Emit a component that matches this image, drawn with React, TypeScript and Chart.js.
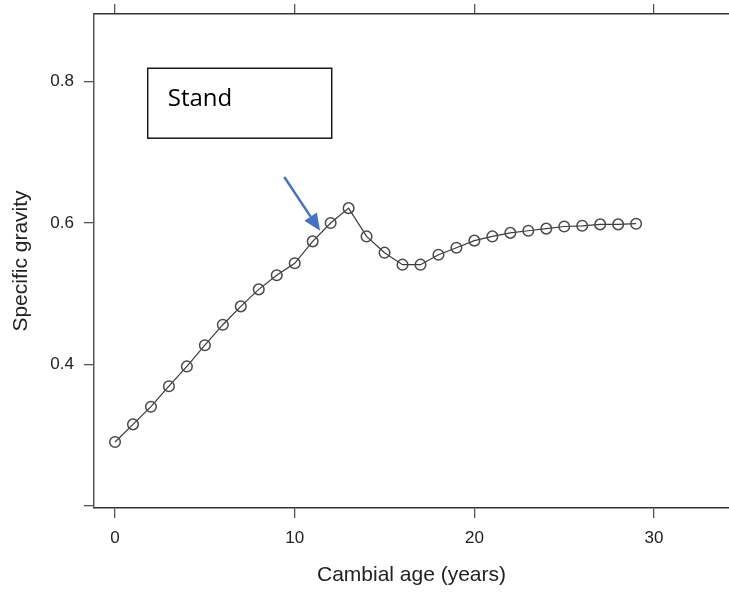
import { useEffect, useRef } from 'react';
import { Chart, registerables } from 'chart.js';

Chart.register(...registerables);

// ---- data ----
const cambialAge = [0, 1, 2, 3, 4, 5, 6, 7, 8, 9, 10, 11, 12, 13, 14, 15, 16, 17, 18, 19, 20, 21, 22, 23, 24, 25, 26, 27, 28, 29];
const specificGravity = [
  0.290, 0.315, 0.340, 0.369, 0.397, 0.427, 0.456, 0.482, 0.506, 0.526,
  0.543, 0.574, 0.600, 0.621, 0.581, 0.558, 0.541, 0.541, 0.555, 0.565,
  0.575, 0.581, 0.586, 0.589, 0.592, 0.595, 0.596, 0.598, 0.598, 0.599,
];
const xTickValues = [0, 10, 20, 30];
const yTickValues = [0.2, 0.4, 0.6, 0.8];
const yHiddenLabels = [0.2];
const xRange = [-1.17, 34.17];
const yRange = [0.1966, 0.8958];
const xAxisTitle = 'Cambial age (years)';
const yAxisTitle = 'Specific gravity';

// annotation (in data coordinates)
const boxLabel = 'Stand';
const boxXRange = [1.82, 12.06];
const boxYRange = [0.720, 0.819];
const arrowFrom = [9.42, 0.665];
const arrowTo = [11.41, 0.589];

const FONT = '"Liberation Sans", Arial, Helvetica, sans-serif';

const annotationPlugin = {
  id: 'standAnnotation',
  afterDraw(chart: any) {
    const { ctx, scales } = chart;
    const xs = scales.x;
    const ys = scales.y;
    ctx.save();
    // box
    const bx0 = xs.getPixelForValue(boxXRange[0]);
    const bx1 = xs.getPixelForValue(boxXRange[1]);
    const by0 = ys.getPixelForValue(boxYRange[1]);
    const by1 = ys.getPixelForValue(boxYRange[0]);
    ctx.fillStyle = '#ffffff';
    ctx.fillRect(bx0, by0, bx1 - bx0, by1 - by0);
    ctx.strokeStyle = '#1a1a1a';
    ctx.lineWidth = 1.5;
    ctx.strokeRect(bx0, by0, bx1 - bx0, by1 - by0);
    ctx.fillStyle = '#000000';
    ctx.font = '24px "Open Sans", "Noto Sans", sans-serif';
    ctx.textBaseline = 'alphabetic';
    ctx.textAlign = 'left';
    ctx.fillText(boxLabel, bx0 + 20, by0 + 37.5);

    // arrow
    const ax0 = xs.getPixelForValue(arrowFrom[0]);
    const ay0 = ys.getPixelForValue(arrowFrom[1]);
    const ax1 = xs.getPixelForValue(arrowTo[0]);
    const ay1 = ys.getPixelForValue(arrowTo[1]);
    const ang = Math.atan2(ay1 - ay0, ax1 - ax0);
    const headLen = 17;
    const headHalf = 7.5;
    const baseX = ax1 - headLen * Math.cos(ang);
    const baseY = ay1 - headLen * Math.sin(ang);
    ctx.strokeStyle = '#4472C4';
    ctx.fillStyle = '#4472C4';
    ctx.lineWidth = 2.5;
    ctx.beginPath();
    ctx.moveTo(ax0, ay0);
    ctx.lineTo(baseX, baseY);
    ctx.stroke();
    ctx.beginPath();
    ctx.moveTo(ax1, ay1);
    ctx.lineTo(baseX + headHalf * Math.sin(ang), baseY - headHalf * Math.cos(ang));
    ctx.lineTo(baseX - headHalf * Math.sin(ang), baseY + headHalf * Math.cos(ang));
    ctx.closePath();
    ctx.fill();
    ctx.restore();
  },
};

const zeroPad = (s: any) => {
  s.paddingLeft = 0;
  s.paddingRight = 0;
  s.paddingTop = 0;
  s.paddingBottom = 0;
};

export default function App() {
  const canvasRef = useRef<HTMLCanvasElement | null>(null);

  useEffect(() => {
    if (!canvasRef.current) return;
    const points = cambialAge.map((x, i) => ({ x, y: specificGravity[i] }));
    const chart = new Chart(canvasRef.current, {
      type: 'line',
      data: {
        datasets: [
          {
            data: points,
            borderColor: '#3a3a3a',
            borderWidth: 1.2,
            pointRadius: 5.3,
            pointBorderWidth: 1.5,
            pointBorderColor: '#4a4a4a',
            pointBackgroundColor: 'rgba(0,0,0,0)',
            pointHoverRadius: 5.3,
            tension: 0,
            clip: false,
          },
        ],
      },
      options: {
        animation: false,
        responsive: false,
        maintainAspectRatio: false,
        events: [],
        layout: { padding: 0, autoPadding: false },
        plugins: {
          legend: { display: false },
          tooltip: { enabled: false },
          title: { display: false },
        },
        scales: {
          x: {
            type: 'linear',
            position: 'bottom',
            min: xRange[0],
            max: xRange[1],
            afterBuildTicks: (s: any) => {
              s.ticks = xTickValues.map((v) => ({ value: v }));
            },
            afterFit: (s: any) => {
              s.height = 87;
              zeroPad(s);
            },
            grid: {
              drawOnChartArea: false,
              drawTicks: true,
              tickLength: 10,
              color: '#555555',
              lineWidth: 1.3,
            },
            border: { display: true, color: '#333333', width: 1.5 },
            ticks: {
              padding: 10,
              color: '#222222',
              font: { family: FONT, size: 17 },
              maxRotation: 0,
              callback: (v: any) => String(v),
            },
            title: {
              display: true,
              text: xAxisTitle,
              color: '#222222',
              font: { family: FONT, size: 21 },
              padding: { top: 0, bottom: 7 },
            },
          },
          x2: {
            type: 'linear',
            position: 'top',
            min: xRange[0],
            max: xRange[1],
            afterBuildTicks: (s: any) => {
              s.ticks = xTickValues.map((v) => ({ value: v }));
            },
            afterFit: (s: any) => {
              s.height = 14;
              zeroPad(s);
            },
            grid: {
              drawOnChartArea: false,
              drawTicks: true,
              tickLength: 10,
              color: '#555555',
              lineWidth: 1.3,
            },
            border: { display: true, color: '#333333', width: 1.5 },
            ticks: { display: false },
          },
          y: {
            type: 'linear',
            position: 'left',
            min: yRange[0],
            max: yRange[1],
            afterBuildTicks: (s: any) => {
              s.ticks = yTickValues.map((v) => ({ value: v }));
            },
            afterFit: (s: any) => {
              s.width = 94;
              zeroPad(s);
            },
            grid: {
              drawOnChartArea: false,
              drawTicks: true,
              tickLength: 10,
              color: '#555555',
              lineWidth: 1.3,
            },
            border: { display: true, color: '#555555', width: 1.5 },
            ticks: {
              padding: 10,
              color: '#222222',
              font: { family: FONT, size: 17 },
              callback: (v: any) =>
                yHiddenLabels.some((h) => Math.abs(h - v) < 1e-9) ? '' : Number(v).toFixed(1),
            },
            title: {
              display: true,
              text: yAxisTitle,
              color: '#222222',
              font: { family: FONT, size: 21 },
              padding: { top: 9, bottom: 0 },
            },
          },
        },
      } as any,
      plugins: [annotationPlugin],
    });
    return () => {
      chart.destroy();
    };
  }, []);

  return (
    <div
      style={{
        position: 'fixed',
        left: 0,
        top: 0,
        width: 729,
        height: 595,
        background: '#ffffff',
      }}
    >
      <canvas ref={canvasRef} width={729} height={595} style={{ display: 'block', width: 729, height: 595 }} />
    </div>
  );
}
